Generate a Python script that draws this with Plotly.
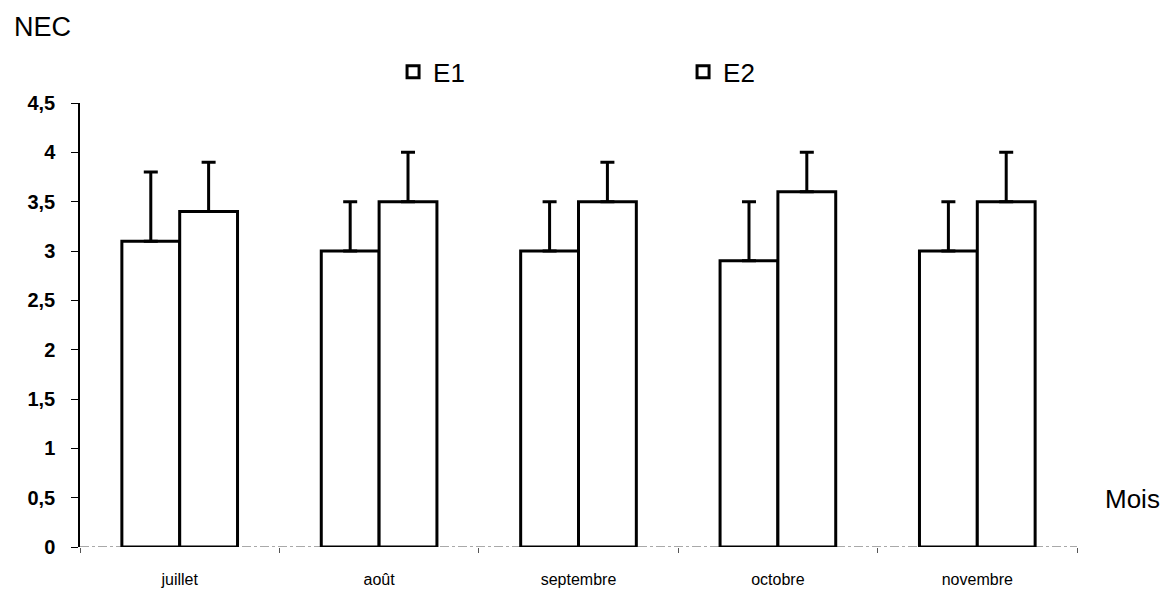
import plotly.graph_objects as go

months = ["juillet", "août", "septembre", "octobre", "novembre"]
e1_values = [3.1, 3.0, 3.0, 2.9, 3.0]
e1_err_up = [0.7, 0.5, 0.5, 0.6, 0.5]
e2_values = [3.4, 3.5, 3.5, 3.6, 3.5]
e2_err_up = [0.5, 0.5, 0.4, 0.4, 0.5]
y_tickvals = [0, 0.5, 1, 1.5, 2, 2.5, 3, 3.5, 4, 4.5]
y_ticktext = ["0", "0,5", "1", "1,5", "2", "2,5", "3", "3,5", "4", "4,5"]

FONT = "Liberation Sans, Arial, sans-serif"

fig = go.Figure()
for name, vals, errs in [("E1", e1_values, e1_err_up), ("E2", e2_values, e2_err_up)]:
    fig.add_trace(go.Bar(
        name=name, x=months, y=vals,
        marker=dict(color="white", line=dict(color="black", width=3)),
        error_y=dict(type="data", symmetric=False, array=errs,
                     arrayminus=[0] * len(errs),
                     color="black", thickness=3, width=7),
    ))

fig.update_layout(
    width=1172, height=591,
    margin=dict(l=72, r=103, t=95, b=52),
    paper_bgcolor="white", plot_bgcolor="white",
    barmode="group", bargap=0.42, bargroupgap=0,
    showlegend=True,
    legend=dict(orientation="h", x=0.314, y=1.07, xanchor="left", yanchor="middle",
                font=dict(family=FONT, size=26, color="black"),
                entrywidth=245, entrywidthmode="pixels",
                itemclick=False, itemdoubleclick=False),
    font=dict(family=FONT, color="black"),
    xaxis=dict(showline=False,
               ticks="outside", tickson="boundaries", ticklen=5, tickcolor="#555555",
               ticklabelstandoff=21,
               tickfont=dict(size=16, family=FONT), showgrid=False, zeroline=False),
    yaxis=dict(range=[0, 4.5], tickvals=y_tickvals,
               ticktext=["<b>" + t + "</b>" for t in y_ticktext],
               showline=True, linecolor="black", linewidth=1.5,
               ticks="outside", ticklen=7, tickcolor="black",
               ticklabelstandoff=12,
               tickfont=dict(size=20, family=FONT), showgrid=False, zeroline=False),
    shapes=[
        dict(type="line", xref="paper", yref="y", x0=0, x1=1, y0=0, y1=0,
             line=dict(color="#555555", width=1.2, dash="dashdot"), layer="below"),
    ],
    annotations=[
        dict(text="NEC", xref="paper", yref="paper", x=-0.068, y=1.171,
             xanchor="left", yanchor="middle", showarrow=False,
             font=dict(size=27, family=FONT)),
        dict(text="Mois", xref="paper", yref="paper", x=1.026, y=0.108,
             xanchor="left", yanchor="middle", showarrow=False,
             font=dict(size=26, family=FONT)),
    ],
)

fig.write_html("out.html")
